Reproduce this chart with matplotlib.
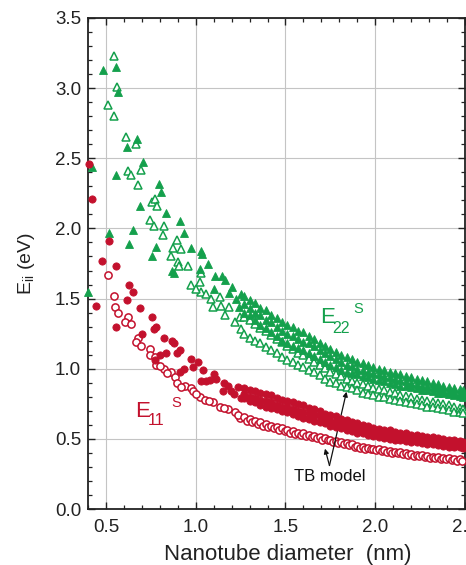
import matplotlib
matplotlib.use("Agg")
import matplotlib.pyplot as plt

plt.rcParams['font.family'] = ['Liberation Sans', 'DejaVu Sans']
plt.rcParams['mathtext.fontset'] = 'custom'
plt.rcParams['mathtext.rm'] = 'Liberation Sans'
plt.rcParams['mathtext.default'] = 'regular'

# ---------------- data (diameter nm, energy eV) ----------------
# E22 semiconducting, experiment (filled triangles), sparse small-diameter part
e22_exp_pts = [(0.481, 3.13), (0.554, 3.15), (0.569, 2.97), (0.674, 2.64), (0.617, 2.58),
               (0.704, 2.47), (0.42, 2.44), (0.554, 2.38), (0.794, 2.32), (0.806, 2.26),
               (0.689, 2.16), (0.837, 2.11), (0.913, 2.05), (0.933, 1.97), (0.518, 1.97),
               (0.648, 1.99), (0.63, 1.89), (0.776, 1.87), (0.754, 1.80), (0.972, 1.86),
               (1.028, 1.84), (1.035, 1.82), (1.068, 1.75), (0.878, 1.68), (0.87, 1.70),
               (1.022, 1.71), (1.109, 1.66), (1.148, 1.66), (1.161, 1.63), (1.102, 1.57),
               (1.183, 1.54), (1.254, 1.53), (1.239, 1.44), (0.40, 1.55), (1.20, 1.58),
               (1.225, 1.50)]
# dense large-diameter band: (d, upper, middle, lower)
e22_exp_band = [(1.27, 1.52, 1.46, 1.40), (1.30, 1.49, 1.43, 1.38), (1.33, 1.47, 1.40, 1.35),
                (1.36, 1.43, 1.38, 1.31), (1.39, 1.42, 1.35, 1.29), (1.42, 1.38, 1.33, 1.26),
                (1.45, 1.36, 1.30, 1.23), (1.48, 1.33, 1.27, 1.20), (1.51, 1.31, 1.25, 1.18),
                (1.54, 1.30, 1.23, 1.16), (1.57, 1.27, 1.21, 1.15), (1.60, 1.26, 1.19, 1.13),
                (1.63, 1.23, 1.18, 1.11), (1.66, 1.21, 1.16, 1.09), (1.69, 1.18, 1.13, 1.07),
                (1.72, 1.16, 1.11, 1.05), (1.75, 1.14, 1.09, 1.03), (1.78, 1.12, 1.07, 1.01),
                (1.81, 1.10, 1.05, 0.99), (1.84, 1.08, 1.03, 0.98), (1.87, 1.07, 1.02, 0.97),
                (1.90, 1.05, 1.00, 0.96), (1.93, 1.04, 0.99, 0.95), (1.96, 1.03, 0.98, 0.94),
                (1.99, 1.01, 0.97, 0.93), (2.02, 1.00, 0.96, 0.92), (2.05, 0.99, 0.95, 0.91),
                (2.08, 0.98, 0.94, 0.90), (2.11, 0.97, 0.93, 0.89), (2.14, 0.96, 0.92, 0.88),
                (2.17, 0.95, 0.91, 0.875), (2.20, 0.94, 0.90, 0.87), (2.23, 0.93, 0.89, 0.86),
                (2.26, 0.92, 0.88, 0.85), (2.29, 0.91, 0.875, 0.845), (2.32, 0.90, 0.87, 0.84),
                (2.35, 0.89, 0.86, 0.83), (2.38, 0.88, 0.85, 0.825), (2.41, 0.87, 0.84, 0.82),
                (2.44, 0.86, 0.835, 0.81), (2.47, 0.855, 0.83, 0.805), (2.49, 0.85, 0.825, 0.80)]

# E22 semiconducting, TB model (open triangles)
e22_tb_pts = [(0.546, 3.23), (0.563, 3.01), (0.509, 2.88), (0.546, 2.80), (0.609, 2.65),
              (0.67, 2.60), (0.624, 2.41), (0.639, 2.38), (0.694, 2.42), (0.676, 2.31),
              (0.754, 2.19), (0.772, 2.21), (0.787, 2.16), (0.744, 2.06), (0.768, 2.02),
              (0.824, 2.02), (0.815, 1.95), (0.898, 1.92), (0.874, 1.86), (0.92, 1.85),
              (0.861, 1.80), (0.902, 1.76), (0.957, 1.73), (0.907, 1.73), (1.031, 1.68),
              (0.976, 1.60), (1.022, 1.62), (1.031, 1.55), (1.083, 1.50), (1.133, 1.51),
              (1.096, 1.44), (1.143, 1.45), (1.183, 1.44), (1.161, 1.38), (1.217, 1.33),
              (1.244, 1.37), (1.254, 1.28), (1.00, 1.57), (1.06, 1.53)]
# (d, upper, lower)
e22_tb_band = [(1.27, 1.37, 1.245), (1.30, 1.35, 1.22), (1.33, 1.32, 1.20), (1.36, 1.29, 1.18),
               (1.39, 1.27, 1.155), (1.42, 1.24, 1.13), (1.45, 1.21, 1.11), (1.48, 1.19, 1.085),
               (1.51, 1.16, 1.065), (1.54, 1.14, 1.05), (1.57, 1.115, 1.03), (1.60, 1.095, 1.01),
               (1.63, 1.07, 0.99), (1.66, 1.05, 0.975), (1.69, 1.03, 0.955), (1.72, 1.005, 0.93),
               (1.75, 0.98, 0.905), (1.78, 0.96, 0.895), (1.81, 0.945, 0.88), (1.84, 0.93, 0.87),
               (1.87, 0.915, 0.86), (1.90, 0.90, 0.845), (1.93, 0.89, 0.83), (1.96, 0.875, 0.82),
               (1.99, 0.865, 0.81), (2.02, 0.855, 0.80), (2.05, 0.845, 0.795), (2.08, 0.835, 0.785),
               (2.11, 0.825, 0.775), (2.14, 0.815, 0.77), (2.17, 0.805, 0.76), (2.20, 0.795, 0.755),
               (2.23, 0.785, 0.745), (2.26, 0.78, 0.74), (2.29, 0.77, 0.73), (2.32, 0.765, 0.725),
               (2.35, 0.755, 0.72), (2.38, 0.745, 0.71), (2.41, 0.74, 0.705), (2.44, 0.73, 0.695),
               (2.47, 0.72, 0.69), (2.49, 0.715, 0.685)]

# E11 semiconducting, experiment (filled circles)
e11_exp_pts = [(0.406, 2.46), (0.42, 2.21), (0.518, 1.91), (0.48, 1.77), (0.554, 1.73),
               (0.443, 1.45), (0.63, 1.60), (0.648, 1.55), (0.618, 1.49), (0.689, 1.43),
               (0.554, 1.30), (0.754, 1.37), (0.778, 1.30), (0.767, 1.28), (0.702, 1.25),
               (0.824, 1.22), (0.868, 1.20), (0.879, 1.18), (0.911, 1.13), (0.896, 1.11),
               (0.833, 1.11), (0.80, 1.10), (0.976, 1.07), (0.772, 1.06), (1.013, 1.05),
               (0.985, 1.01), (0.935, 1.00), (0.911, 0.98), (1.041, 0.99), (1.031, 0.91),
               (1.102, 0.96), (1.115, 0.93), (1.059, 0.91), (1.08, 0.92), (1.157, 0.90),
               (1.152, 0.84), (1.198, 0.84), (1.235, 0.87), (1.254, 0.79), (1.18, 0.88),
               (1.215, 0.82)]
e11_exp_band = [(1.27, 0.86, 0.82, 0.79), (1.30, 0.85, 0.80, 0.77), (1.33, 0.84, 0.79, 0.76),
                (1.36, 0.83, 0.78, 0.74), (1.39, 0.82, 0.77, 0.73), (1.42, 0.81, 0.76, 0.72),
                (1.45, 0.79, 0.74, 0.71), (1.48, 0.78, 0.73, 0.70), (1.51, 0.77, 0.73, 0.69),
                (1.54, 0.76, 0.71, 0.68), (1.57, 0.75, 0.70, 0.66), (1.60, 0.74, 0.69, 0.65),
                (1.63, 0.72, 0.68, 0.64), (1.66, 0.71, 0.67, 0.63), (1.69, 0.70, 0.66, 0.62),
                (1.72, 0.68, 0.65, 0.61), (1.75, 0.67, 0.63, 0.59), (1.78, 0.66, 0.62, 0.585),
                (1.81, 0.645, 0.61, 0.575), (1.84, 0.635, 0.60, 0.565), (1.87, 0.62, 0.59, 0.555),
                (1.90, 0.61, 0.58, 0.545), (1.93, 0.60, 0.57, 0.54), (1.96, 0.59, 0.56, 0.53),
                (1.99, 0.58, 0.55, 0.52), (2.02, 0.57, 0.54, 0.51), (2.05, 0.565, 0.535, 0.505),
                (2.08, 0.56, 0.53, 0.50), (2.11, 0.55, 0.52, 0.495), (2.14, 0.545, 0.515, 0.49),
                (2.17, 0.54, 0.51, 0.485), (2.20, 0.53, 0.505, 0.48), (2.23, 0.525, 0.50, 0.475),
                (2.26, 0.52, 0.495, 0.47), (2.29, 0.515, 0.49, 0.465), (2.32, 0.51, 0.485, 0.46),
                (2.35, 0.505, 0.48, 0.455), (2.38, 0.50, 0.475, 0.45), (2.41, 0.495, 0.47, 0.445),
                (2.44, 0.49, 0.465, 0.44), (2.47, 0.485, 0.46, 0.44), (2.49, 0.48, 0.455, 0.435)]

# E11 semiconducting, TB model (open circles)
e11_tb_pts = [(0.509, 1.67), (0.546, 1.52), (0.55, 1.44), (0.567, 1.40), (0.624, 1.37),
              (0.606, 1.33), (0.639, 1.32), (0.68, 1.22), (0.667, 1.19), (0.694, 1.16),
              (0.744, 1.14), (0.744, 1.10), (0.772, 1.08), (0.781, 1.03), (0.824, 1.00),
              (0.861, 0.98), (0.883, 0.94), (0.898, 0.90), (0.939, 0.88), (0.976, 0.86),
              (0.985, 0.84), (1.022, 0.80), (1.054, 0.78), (1.096, 0.76), (1.133, 0.73),
              (1.18, 0.71), (1.217, 0.69), (1.244, 0.65), (0.80, 1.02), (0.84, 0.97),
              (0.92, 0.87), (1.00, 0.82), (1.075, 0.77), (1.155, 0.72), (1.235, 0.67)]
# (d, E) pairs of the dense chain
e11_tb_chain = [(1.27, 0.655), (1.285, 0.63), (1.30, 0.64), (1.315, 0.62), (1.33, 0.63), (1.345, 0.605),
                (1.36, 0.62), (1.375, 0.595), (1.39, 0.605), (1.405, 0.585), (1.42, 0.595), (1.435, 0.575),
                (1.45, 0.585), (1.465, 0.565), (1.48, 0.575), (1.495, 0.555), (1.51, 0.565), (1.525, 0.545),
                (1.54, 0.555), (1.555, 0.535), (1.57, 0.545), (1.585, 0.53), (1.60, 0.54), (1.615, 0.52),
                (1.63, 0.53), (1.645, 0.51), (1.66, 0.52), (1.675, 0.505), (1.69, 0.51), (1.705, 0.495),
                (1.72, 0.505), (1.735, 0.49), (1.75, 0.495), (1.765, 0.48), (1.78, 0.485), (1.795, 0.47),
                (1.81, 0.475), (1.825, 0.46), (1.84, 0.47), (1.855, 0.455), (1.87, 0.46), (1.885, 0.445),
                (1.90, 0.45), (1.915, 0.437), (1.93, 0.445), (1.945, 0.43), (1.96, 0.437), (1.975, 0.425),
                (1.99, 0.43), (2.005, 0.418), (2.02, 0.425), (2.035, 0.412), (2.05, 0.42), (2.065, 0.407),
                (2.08, 0.413), (2.095, 0.402), (2.11, 0.408), (2.125, 0.397), (2.14, 0.403), (2.155, 0.39),
                (2.17, 0.398), (2.185, 0.385), (2.20, 0.393), (2.215, 0.38), (2.23, 0.388), (2.245, 0.375),
                (2.26, 0.383), (2.275, 0.37), (2.29, 0.378), (2.305, 0.366), (2.32, 0.374), (2.335, 0.362),
                (2.35, 0.37), (2.365, 0.357), (2.38, 0.366), (2.395, 0.353), (2.41, 0.362), (2.425, 0.349),
                (2.44, 0.357), (2.455, 0.345), (2.47, 0.353), (2.485, 0.34)]

x_ticks = [0.5, 1.0, 1.5, 2.0, 2.5]
x_tick_labels = ['0.5', '1.0', '1.5', '2.0', '2.5']
y_ticks = [0.0, 0.5, 1.0, 1.5, 2.0, 2.5, 3.0, 3.5]
y_tick_labels = ['0.0', '0.5', '1.0', '1.5', '2.0', '2.5', '3.0', '3.5']

GREEN = '#14a04c'
RED = '#c3112d'


def flatten(pts, band):
    xs = [p[0] for p in pts]
    ys = [p[1] for p in pts]
    for row in band:
        for v in row[1:]:
            xs.append(row[0])
            ys.append(v)
    return xs, ys


fig = plt.figure(figsize=(4.66, 5.65), dpi=100)
ax = fig.add_axes([88 / 466, 1 - 509 / 565, (465 - 88) / 466, (509 - 18) / 565])

ax.set_xlim(0.4, 2.5)
ax.set_ylim(0.0, 3.5)
ax.set_axisbelow(True)
ax.grid(True, color='#c4c4c4', lw=0.8)

# E22 TB (open) then experiment (filled)
x, y = flatten(e22_tb_pts, e22_tb_band)
ax.plot(x, y, ls='none', marker='^', ms=6.0, mfc='white', mec=GREEN, mew=1.1, clip_on=False, zorder=3)
x, y = flatten(e22_exp_pts, e22_exp_band)
ax.plot(x, y, ls='none', marker='^', ms=6.0, mfc=GREEN, mec=GREEN, mew=0.6, clip_on=False, zorder=4)

x = [p[0] for p in e11_tb_pts] + [p[0] for p in e11_tb_chain]
y = [p[1] for p in e11_tb_pts] + [p[1] for p in e11_tb_chain]
ax.plot(x, y, ls='none', marker='o', ms=5.2, mfc='white', mec=RED, mew=1.1, clip_on=False, zorder=3)
x, y = flatten(e11_exp_pts, e11_exp_band)
ax.plot(x, y, ls='none', marker='o', ms=5.2, mfc=RED, mec=RED, mew=0.6, clip_on=False, zorder=4)

# labels on the curves
ax.text(1.694, 1.326, 'E', color=GREEN, fontsize=16, ha='left', va='baseline')
ax.text(1.762, 1.252, '22', color=GREEN, fontsize=11.5, ha='left', va='baseline')
ax.text(1.878, 1.395, 'S', color=GREEN, fontsize=10.5, ha='left', va='baseline')
ax.text(0.661, 0.654, 'E', color=RED, fontsize=16, ha='left', va='baseline')
ax.text(0.733, 0.599, '11', color=RED, fontsize=11.5, ha='left', va='baseline')
ax.text(0.862, 0.729, 'S', color=RED, fontsize=10.5, ha='left', va='baseline')

# TB model annotation
ax.text(1.745, 0.235, 'TB model', fontsize=12, ha='center', va='center', color='#111111')
arrow = dict(arrowstyle='-|>', color='#111111', lw=0.9, mutation_scale=7, shrinkA=0, shrinkB=0)
ax.annotate('', xy=(1.84, 0.836), xytext=(1.745, 0.31), arrowprops=arrow)
ax.annotate('', xy=(1.72, 0.43), xytext=(1.745, 0.31), arrowprops=arrow)

ax.set_xticks(x_ticks)
ax.set_xticklabels(x_tick_labels)
ax.set_yticks(y_ticks)
ax.set_yticklabels(y_tick_labels)
ax.set_xticks([0.4 + 0.1 * i for i in range(22)], minor=True)
ax.set_yticks([0.1 * i for i in range(36)], minor=True)
ax.tick_params(which='both', direction='in', top=True, right=True, colors='#222222',
               labelcolor='#222222')
ax.tick_params(which='major', length=5, width=1.0, labelsize=13.5)
ax.tick_params(which='minor', length=3, width=0.9)
ax.tick_params(axis='x', which='major', pad=7)
ax.tick_params(axis='y', which='major', pad=5)
for s in ax.spines.values():
    s.set_linewidth(1.3)
    s.set_color('#222222')

ax.set_xlabel('Nanotube diameter  (nm)', fontsize=16, color='#222222')
ax.xaxis.set_label_coords(0.53, -0.071, transform=ax.transAxes)
ax.xaxis.label.set_va('top')
ax.set_ylabel(r'E$_{ii}$ (eV)', fontsize=14, color='#222222')
ax.yaxis.set_label_coords(-0.135, 0.5)

fig.savefig('out.png', dpi=100)
